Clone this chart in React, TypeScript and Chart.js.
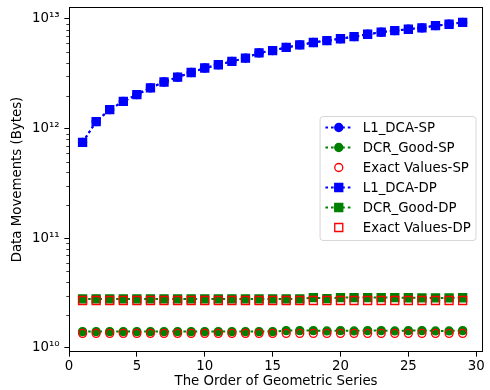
import React, { useEffect, useRef } from "react";
import { Chart, registerables } from "chart.js";

Chart.register(...registerables);

const ORDERS = [1, 2, 3, 4, 5, 6, 7, 8, 9, 10, 11, 12, 13, 14, 15, 16, 17, 18, 19, 20, 21, 22, 23, 24, 25, 26, 27, 28, 29];

const L1_DCA_SP = [
  7.5e11, 1.16e12, 1.49e12, 1.77e12, 2.04e12, 2.35e12, 2.66e12, 2.95e12, 3.25e12, 3.57e12,
  3.82e12, 4.1e12, 4.4e12, 4.9e12, 5.15e12, 5.5e12, 5.8e12, 6.1e12, 6.35e12, 6.6e12,
  6.9e12, 7.25e12, 7.57e12, 7.83e12, 8.06e12, 8.28e12, 8.7e12, 8.95e12, 9.3e12,
];
const DCR_GOOD_SP = [
  1.41e10, 1.41e10, 1.41e10, 1.41e10, 1.41e10, 1.41e10, 1.41e10, 1.41e10, 1.41e10, 1.41e10,
  1.41e10, 1.41e10, 1.41e10, 1.41e10, 1.41e10, 1.44e10, 1.44e10, 1.44e10, 1.43e10, 1.44e10,
  1.43e10, 1.44e10, 1.44e10, 1.43e10, 1.44e10, 1.44e10, 1.43e10, 1.43e10, 1.44e10,
];
const EXACT_SP = [
  1.36e10, 1.36e10, 1.36e10, 1.36e10, 1.36e10, 1.36e10, 1.36e10, 1.36e10, 1.36e10, 1.36e10,
  1.36e10, 1.36e10, 1.36e10, 1.36e10, 1.36e10, 1.36e10, 1.36e10, 1.36e10, 1.36e10, 1.36e10,
  1.36e10, 1.36e10, 1.36e10, 1.36e10, 1.36e10, 1.36e10, 1.36e10, 1.36e10, 1.36e10,
];
const L1_DCA_DP = [
  7.5e11, 1.16e12, 1.49e12, 1.77e12, 2.04e12, 2.35e12, 2.66e12, 2.95e12, 3.25e12, 3.57e12,
  3.82e12, 4.1e12, 4.4e12, 4.9e12, 5.15e12, 5.5e12, 5.8e12, 6.1e12, 6.35e12, 6.6e12,
  6.9e12, 7.25e12, 7.57e12, 7.83e12, 8.06e12, 8.28e12, 8.7e12, 8.95e12, 9.3e12,
];
const DCR_GOOD_DP = [
  2.8e10, 2.8e10, 2.8e10, 2.8e10, 2.8e10, 2.8e10, 2.8e10, 2.8e10, 2.8e10, 2.8e10,
  2.8e10, 2.8e10, 2.8e10, 2.8e10, 2.8e10, 2.8e10, 2.8e10, 2.88e10, 2.82e10, 2.88e10,
  2.88e10, 2.88e10, 2.88e10, 2.88e10, 2.87e10, 2.86e10, 2.86e10, 2.86e10, 2.87e10,
];
const EXACT_DP = [
  2.71e10, 2.71e10, 2.71e10, 2.71e10, 2.71e10, 2.71e10, 2.71e10, 2.71e10, 2.71e10, 2.71e10,
  2.71e10, 2.71e10, 2.71e10, 2.71e10, 2.71e10, 2.71e10, 2.71e10, 2.71e10, 2.71e10, 2.71e10,
  2.71e10, 2.71e10, 2.71e10, 2.71e10, 2.71e10, 2.71e10, 2.71e10, 2.71e10, 2.71e10,
];

const X_TICKS = [0, 5, 10, 15, 20, 25, 30];
const X_MIN = 0;
const X_MAX = 30.5;
const Y_MIN = 9.19e9;
const Y_MAX = 1.285e13;

const X_TITLE = "The Order of Geometric Series";
const Y_TITLE = "Data Movements (Bytes)";

const BLUE = "#0000ff";
const GREEN = "#008000";
const RED = "#ff0000";
const FONT = "'DejaVu Sans', sans-serif";
const FS = 13.33;

type Series = {
  label: string;
  values: number[];
  color: string;
  marker: "circle" | "rect";
  filled: boolean;
  line: boolean;
};

const SERIES: Series[] = [
  { label: "L1_DCA-SP", values: L1_DCA_SP, color: BLUE, marker: "circle", filled: true, line: true },
  { label: "DCR_Good-SP", values: DCR_GOOD_SP, color: GREEN, marker: "circle", filled: true, line: true },
  { label: "Exact Values-SP", values: EXACT_SP, color: RED, marker: "circle", filled: false, line: false },
  { label: "L1_DCA-DP", values: L1_DCA_DP, color: BLUE, marker: "rect", filled: true, line: true },
  { label: "DCR_Good-DP", values: DCR_GOOD_DP, color: GREEN, marker: "rect", filled: true, line: true },
  { label: "Exact Values-DP", values: EXACT_DP, color: RED, marker: "rect", filled: false, line: false },
];

const SUP: Record<string, string> = {
  "0": "\u2070", "1": "\u00b9", "2": "\u00b2", "3": "\u00b3", "4": "\u2074",
  "5": "\u2075", "6": "\u2076", "7": "\u2077", "8": "\u2078", "9": "\u2079",
};

const LINE_W = 2;
const DASH = [2.6, 3];
const EDGE_W = 1.33;
const radiusFor = (m: "circle" | "rect") => (m === "circle" ? 4 : 5.657);

const isMajor = (v: number) => {
  if (!v || v <= 0) return false;
  const l = Math.log10(v);
  return Math.abs(l - Math.round(l)) < 1e-9;
};

const drawMarker = (ctx: CanvasRenderingContext2D, s: Series, x: number, y: number) => {
  ctx.save();
  ctx.setLineDash([]);
  ctx.lineWidth = EDGE_W;
  ctx.strokeStyle = s.color;
  ctx.fillStyle = s.color;
  ctx.beginPath();
  if (s.marker === "circle") {
    ctx.arc(x, y, 4, 0, Math.PI * 2);
  } else {
    ctx.rect(x - 4, y - 4, 8, 8);
  }
  if (s.filled) ctx.fill();
  ctx.stroke();
  ctx.restore();
};

const framePlugin = {
  id: "frameLegend",
  afterDatasetsDraw(chart: any) {
    const { ctx, chartArea: a } = chart;
    const ys = chart.scales.y;
    ctx.save();
    ctx.strokeStyle = "#000";
    ctx.lineWidth = 0.8;
    for (let e = 9; e <= 13; e++) {
      for (let k = 2; k <= 9; k++) {
        const v = k * Math.pow(10, e);
        if (v < Y_MIN || v > Y_MAX) continue;
        const y = Math.round(ys.getPixelForValue(v)) + 0.5;
        ctx.beginPath();
        ctx.moveTo(a.left - 2.67, y);
        ctx.lineTo(a.left, y);
        ctx.stroke();
      }
    }
    ctx.lineWidth = 1;
    ctx.strokeStyle = "#000";
    ctx.strokeRect(a.left + 0.5, a.top + 0.5, a.right - a.left - 1, a.bottom - a.top - 1);
    ctx.restore();
  },
  afterDraw(chart: any) {
    const { ctx, chartArea: a } = chart;
    ctx.save();
    ctx.font = `${FS}px ${FONT}`;
    const pad = 5.33;
    const handle = 26.67;
    const textPad = 10.67;
    const rowH = 13.33;
    const gap = 6.67;
    const textW = Math.max(...SERIES.map((s) => ctx.measureText(s.label).width));
    const w = pad * 2 + handle + textPad + textW;
    const h = pad * 2 + SERIES.length * rowH + (SERIES.length - 1) * gap;
    const right = a.right - 7;
    const left = right - w;
    const top = (a.top + a.bottom) / 2 - h / 2 - 1;
    const r = 3;
    ctx.beginPath();
    ctx.moveTo(left + r, top);
    ctx.lineTo(left + w - r, top);
    ctx.quadraticCurveTo(left + w, top, left + w, top + r);
    ctx.lineTo(left + w, top + h - r);
    ctx.quadraticCurveTo(left + w, top + h, left + w - r, top + h);
    ctx.lineTo(left + r, top + h);
    ctx.quadraticCurveTo(left, top + h, left, top + h - r);
    ctx.lineTo(left, top + r);
    ctx.quadraticCurveTo(left, top, left + r, top);
    ctx.closePath();
    ctx.fillStyle = "rgba(255,255,255,0.8)";
    ctx.fill();
    ctx.strokeStyle = "rgba(204,204,204,0.8)";
    ctx.lineWidth = 1;
    ctx.stroke();

    SERIES.forEach((s, i) => {
      const cy = top + pad + i * (rowH + gap) + rowH / 2 - 1;
      const hx0 = left + pad;
      const hx1 = hx0 + handle;
      if (s.line) {
        ctx.save();
        ctx.strokeStyle = s.color;
        ctx.lineWidth = LINE_W;
        ctx.setLineDash(DASH);
        ctx.beginPath();
        ctx.moveTo(hx0, cy);
        ctx.lineTo(hx1, cy);
        ctx.stroke();
        ctx.restore();
      }
      drawMarker(ctx, s, (hx0 + hx1) / 2, cy);
      ctx.fillStyle = "#000";
      ctx.textAlign = "left";
      ctx.textBaseline = "middle";
      ctx.fillText(s.label, hx1 + textPad, cy + 1);
    });
    ctx.restore();
  },
};

export default function App() {
  const canvasRef = useRef<HTMLCanvasElement | null>(null);

  useEffect(() => {
    if (!canvasRef.current) return;
    const datasets = SERIES.map((s, i) => ({
      label: s.label,
      data: ORDERS.map((x, j) => ({ x, y: s.values[j] })),
      showLine: s.line,
      borderColor: s.color,
      backgroundColor: s.color,
      borderWidth: LINE_W,
      borderDash: DASH,
      borderCapStyle: "butt" as const,
      tension: 0,
      fill: false,
      pointStyle: s.marker,
      pointRadius: radiusFor(s.marker),
      pointHoverRadius: radiusFor(s.marker),
      pointBorderWidth: EDGE_W,
      pointBorderColor: s.color,
      pointBackgroundColor: s.filled ? s.color : "rgba(0,0,0,0)",
      order: 10 - i,
    }));

    const chart = new Chart(canvasRef.current, {
      type: "line",
      data: { datasets },
      plugins: [framePlugin],
      options: {
        responsive: false,
        animation: false,
        devicePixelRatio: 1,
        layout: { padding: { top: 7, right: 3, left: 0, bottom: 0 } },
        plugins: {
          legend: { display: false },
          tooltip: { enabled: false },
        },
        scales: {
          x: {
            type: "linear",
            min: X_MIN,
            max: X_MAX,
            afterBuildTicks: (s: any) => {
              s.ticks = X_TICKS.map((v) => ({ value: v }));
            },
            afterFit: (s: any) => {
              s.height = 38;
              s.paddingLeft = 0;
              s.paddingRight = 0;
            },
            grid: {
              drawOnChartArea: false,
              drawTicks: true,
              tickLength: 4.67,
              tickWidth: 1,
              tickColor: "#000",
            },
            border: { display: false },
            ticks: {
              color: "#000",
              font: { family: FONT, size: FS },
              padding: 2,
              maxRotation: 0,
              autoSkip: false,
              callback: (v: any) => String(v),
            },
            title: {
              display: true,
              text: X_TITLE,
              color: "#000",
              font: { family: FONT, size: FS },
              padding: { top: 0, bottom: 0 },
            },
          },
          y: {
            type: "logarithmic",
            min: Y_MIN,
            max: Y_MAX,
            afterBuildTicks: (s: any) => {
              const t: { value: number }[] = [];
              for (let e = 9; e <= 13; e++) {
                for (let k = 1; k <= 9; k++) {
                  const v = k * Math.pow(10, e);
                  if (v >= Y_MIN && v <= Y_MAX) t.push({ value: v });
                }
              }
              s.ticks = t;
            },
            afterFit: (s: any) => {
              s.width = 69;
              s.paddingTop = 0;
              s.paddingBottom = 0;
            },
            grid: {
              drawOnChartArea: false,
              drawTicks: true,
              tickLength: 4.67,
              tickWidth: 1,
              tickColor: (c: any) => (c.tick && isMajor(c.tick.value) ? "#000" : "rgba(0,0,0,0)"),
            },
            border: { display: false },
            ticks: {
              color: "#000",
              font: { family: FONT, size: FS },
              padding: 4.67,
              autoSkip: false,
              callback: (v: any) => {
                const n = Number(v);
                if (!isMajor(n)) return "";
                const e = String(Math.round(Math.log10(n)));
                return "10" + e.split("").map((c) => SUP[c] || c).join("");
              },
            },
            title: {
              display: true,
              text: Y_TITLE,
              color: "#000",
              font: { family: FONT, size: FS },
              padding: { top: 9.5, bottom: 0 },
            },
          },
        },
      },
    });
    return () => chart.destroy();
  }, []);

  return (
    <div style={{ position: "absolute", left: 0, top: 0, width: 490, height: 390, background: "#fff" }}>
      <canvas ref={canvasRef} width={490} height={390} style={{ width: 490, height: 390, display: "block" }} />
    </div>
  );
}
